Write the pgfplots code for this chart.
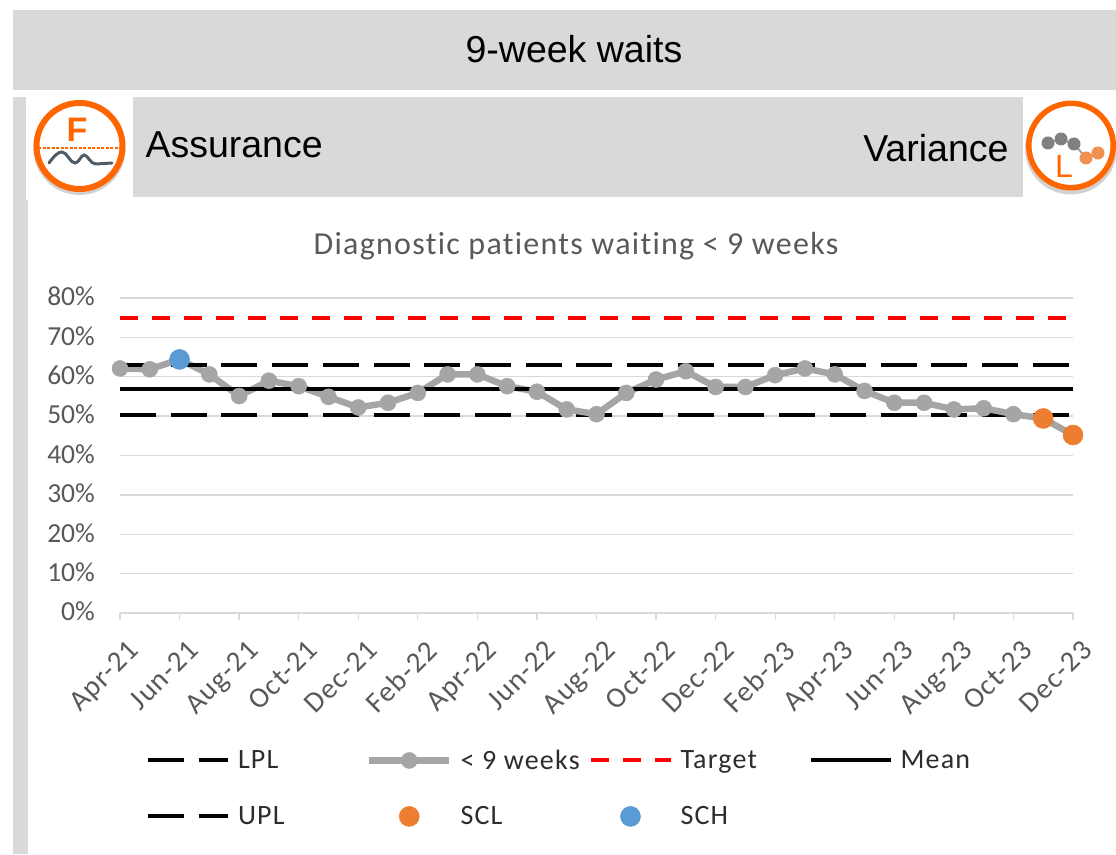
\documentclass[border=0pt]{standalone}
\usepackage{pgfplots}
\pgfplotsset{compat=1.18}
\usepackage{fontspec}
\setmainfont[Ligatures=NoCommon]{Carlito}
\newfontfamily\arial{Liberation Sans}
\definecolor{band}{HTML}{D9D9D9}
\definecolor{tickc}{HTML}{595959}
\definecolor{ic}{HTML}{FF6600}
\definecolor{grey1}{HTML}{A5A5A5}
\definecolor{scl}{HTML}{ED7D31}
\definecolor{sch}{HTML}{5B9BD5}
\definecolor{wave}{HTML}{4F5B66}
\pgfplotstableread{
x y
0 62.1
1 61.9
2 64.4
3 60.6
4 55.1
5 59.0
6 57.6
7 54.9
8 52.2
9 53.4
10 55.9
11 60.6
12 60.6
13 57.6
14 56.2
15 51.7
16 50.5
17 55.9
18 59.3
19 61.4
20 57.4
21 57.4
22 60.4
23 62.1
24 60.6
25 56.4
26 53.4
27 53.4
28 51.7
29 52.0
30 50.5
31 49.4
32 45.2
}\waits
\pgfplotstableread{
x y
0 50.3
32 50.3
}\lpl
\pgfplotstableread{
x y
0 74.8
32 74.8
}\target
\pgfplotstableread{
x y
0 56.8
32 56.8
}\meanl
\pgfplotstableread{
x y
0 63.1
32 63.1
}\upl
\pgfplotstableread{
x y
31 49.4
32 45.2
}\sclp
\pgfplotstableread{
x y
2 64.4
}\schp
\newcommand{\lgd}[2]{\makebox[#1pt][l]{#2}}
\begin{document}
\begin{tikzpicture}[x=1pt,y=1pt]
\useasboundingbox (0,0) rectangle (1116,854);
\fill[white] (0,0) rectangle (1116,854);
% header bands (image y measured from the top)
\fill[band] (13,844) rectangle (1116,764);
\fill[band] (13,757) rectangle (26,654);
\fill[band] (13,654) rectangle (28,0);
\fill[band] (133,757) rectangle (1023,657);
\node[font={\arial\fontsize{37.5}{40}\selectfont}] at (574,805) {9-week waits};
\node[font={\arial\fontsize{37.5}{40}\selectfont},anchor=west] at (142,709) {Assurance};
\node[font={\arial\fontsize{37.5}{40}\selectfont},anchor=east] at (1012,706) {Variance};
% assurance icon
\fill[black!18] (79.5,705) circle (46);
\fill[white] (79.5,708) circle (44);
\draw[ic,line width=6pt] (79.5,708) circle (43);
\node[ic,font={\arial\bfseries\fontsize{34}{34}\selectfont}] at (77,724.5) {F};
\draw[ic,line width=1.5pt,dash pattern=on 3pt off 1.5pt] (38,706) -- (121,706);
\draw[wave,line width=3pt,line cap=round] (49,691) .. controls (54,698) and (58,702) .. (62,702) .. controls (67,702) and (70,691) .. (75,691) .. controls (79,691) and (81,699) .. (84,699) .. controls (88,699) and (90,690) .. (96,690) -- (112,691);
% variance icon
\fill[black!18] (1071,705.5) circle (46);
\fill[white] (1071,708.5) circle (44);
\draw[ic,line width=5.5pt] (1071,708.5) circle (42.2);
\draw[grey1,line width=2pt] (1048,711)--(1061,715)--(1074,710)--(1086,696)--(1098,701);
\fill[black!50] (1048,711) circle (6.5) (1061,715) circle (6.5) (1074,710) circle (6.5);
\fill[scl!85!white] (1086,696) circle (6.5) (1098,701) circle (6.5);
\node[ic,font={\arial\fontsize{32}{32}\selectfont}] at (1064,687.5) {L};
\begin{axis}[
  at={(120pt,241pt)},anchor=south west,
  scale only axis,width=953pt,height=315pt,
  xmin=0,xmax=32,ymin=0,ymax=80,
  axis line style={draw=none},
  axis x line*=bottom,
  axis y line*=left,
  ytick={0,10,...,80},
  yticklabel={\pgfmathprintnumber{\tick}\%},
  /pgf/number format/assume math mode=true,
  ymajorgrids,
  grid style={band,line width=1.3pt},
  y tick style={draw=none},
  xtick={0,2,...,32},
  xticklabels={Apr-21,Jun-21,Aug-21,Oct-21,Dec-21,Feb-22,Apr-22,Jun-22,Aug-22,Oct-22,Dec-22,Feb-23,Apr-23,Jun-23,Aug-23,Oct-23,Dec-23},
  x tick style={draw=band,line width=1.3pt},
  tick align=outside,
  major tick length=7pt,
  tick label style={font=\fontsize{27.5}{30}\selectfont,text=tickc},
  xticklabel style={font=\fontsize{29}{31}\selectfont\addfontfeatures{LetterSpace=4},rotate=45,anchor=north east,inner sep=1pt,xshift=-7pt,yshift=-17pt},
  yticklabel style={xshift=-18pt,yshift=1.5pt,inner sep=0pt},
  clip=false,
  title={\fontsize{32}{35}\selectfont\addfontfeatures{LetterSpace=4}Diagnostic patients waiting < 9 weeks},
  title style={at={(axis description cs:0.4785,1)},anchor=center,yshift=46pt,text=tickc},
  legend columns=4,
  legend cell align=left,
  legend style={draw=none,fill=none,at={(26pt,-137pt)},anchor=north west,
    font=\fontsize{28}{30}\selectfont\addfontfeatures{LetterSpace=4.4},text=tickc!50!black,
    /tikz/every even column/.append style={column sep=0pt},
    row sep=35.5pt,inner sep=0pt,outer sep=0pt,
    nodes={inner sep=0pt,outer sep=0pt}},
  legend image code/.code={
    \draw[mark repeat=2,mark phase=2,#1] plot coordinates {(0pt,0pt) (40pt,0pt) (80pt,0pt)};
    \path (88pt,0pt);
  },
]
\addplot[black,line width=4pt,dash pattern=on 36pt off 14.7pt] table[x=x,y=y] {\lpl};
\addlegendentry{\lgd{128}{LPL}}
\addplot[grey1,line width=6.5pt,mark=*,mark size=8pt,mark options={solid,fill=grey1,draw=grey1,line width=0.5pt}] table[x=x,y=y] {\waits};
\addlegendentry{\lgd{128}{< 9 weeks}}
\addplot[red,line width=4pt,dash pattern=on 18pt off 14pt] table[x=x,y=y] {\target};
\addlegendentry{\lgd{128}{Target}}
\addplot[black,line width=4pt] table[x=x,y=y] {\meanl};
\addlegendentry{\lgd{80}{Mean}}
\addplot[black,line width=4pt,dash pattern=on 36pt off 14.7pt] table[x=x,y=y] {\upl};
\addlegendentry{\lgd{128}{UPL}}
\addplot[only marks,mark=*,mark size=10pt,mark options={fill=scl,draw=scl,line width=0.5pt}] table[x=x,y=y] {\sclp};
\addlegendentry{\lgd{128}{SCL}}
\addplot[only marks,mark=*,mark size=10pt,mark options={fill=sch,draw=sch,line width=0.5pt}] table[x=x,y=y] {\schp};
\addlegendentry{\lgd{128}{SCH}}
\end{axis}
\end{tikzpicture}
\end{document}
